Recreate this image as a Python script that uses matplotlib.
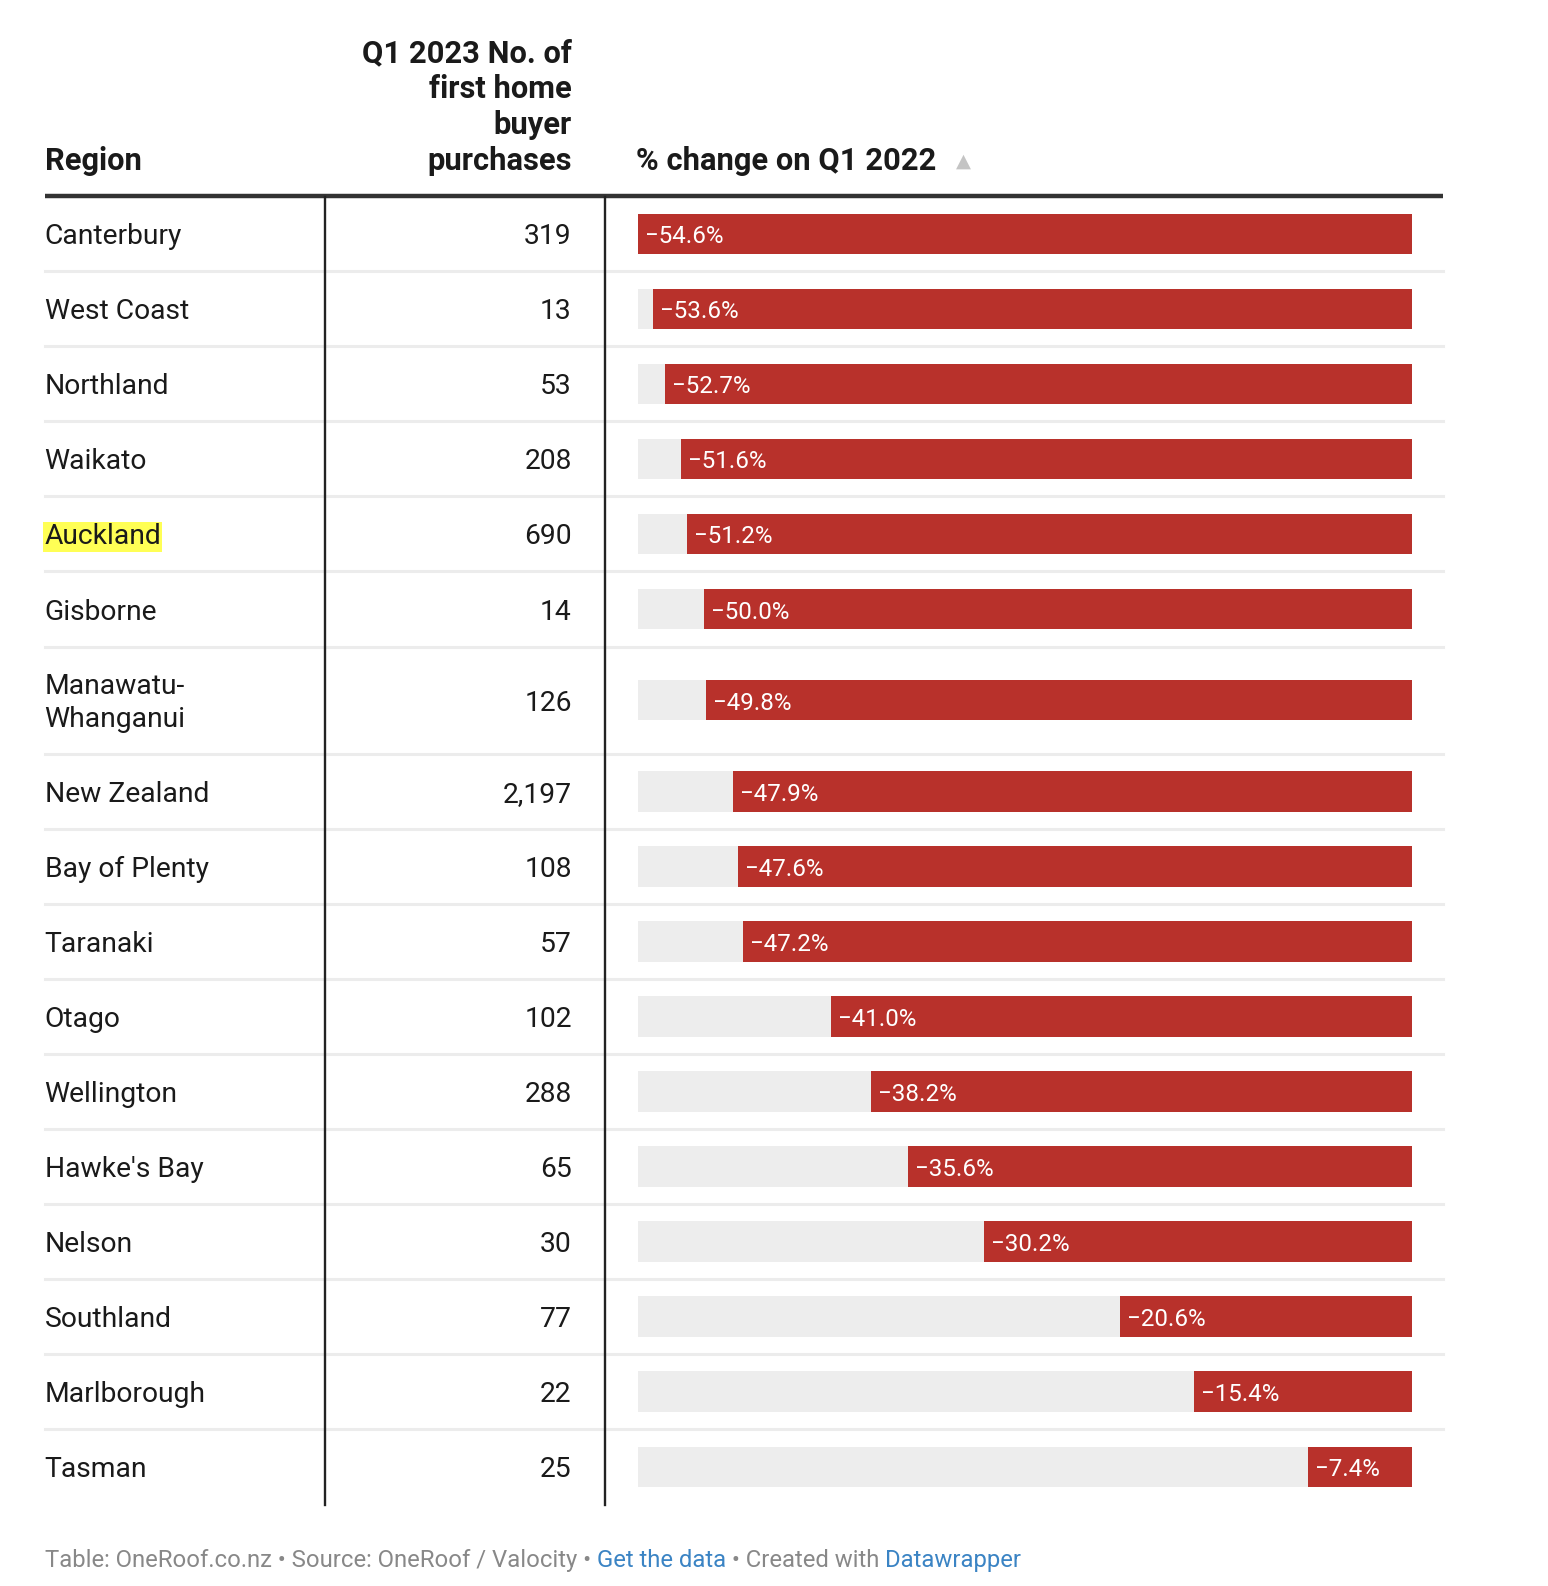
import matplotlib.pyplot as plt
import matplotlib as mpl

regions = ["Canterbury", "West Coast", "Northland", "Waikato", "Auckland",
           "Gisborne", "Manawatu-\nWhanganui", "New Zealand", "Bay of Plenty",
           "Taranaki", "Otago", "Wellington", "Hawke's Bay", "Nelson",
           "Southland", "Marlborough", "Tasman"]
purchases = ["319", "13", "53", "208", "690", "14", "126", "2,197", "108",
             "57", "102", "288", "65", "30", "77", "22", "25"]
pct_change = [-54.6, -53.6, -52.7, -51.6, -51.2, -50.0, -49.8, -47.9, -47.6,
              -47.2, -41.0, -38.2, -35.6, -30.2, -20.6, -15.4, -7.4]
highlight = ["Auckland"]

# layout works in a 1530 x 1568 grid, scaled onto the 1548 x 1586 figure
GW, GH = 1530, 1568
RED = "#b8312b"
BG = "#ededed"
TXT = "#1a1a1a"

mpl.rcParams["font.family"] = ["Roboto", "DejaVu Sans"]

fig = plt.figure(figsize=(15.48, 15.86), dpi=100)
ax = fig.add_axes([0, 0, 1, 1])
ax.set_xlim(0, GW)
ax.set_ylim(GH, 0)
ax.axis("off")

left, right = 44, 1426
col1, col2 = 321, 598
num_x = 565
bar_l, bar_r = 631, 1396
top = 194
row_h = [106 if "\n" in r else 74.2 for r in regions]

# header
hs = 22.2
ax.text(left, 168, "Region", fontsize=hs, fontweight="bold", color=TXT, va="baseline")
ax.text(num_x, 168, "Q1 2023 No. of\nfirst home\nbuyer\npurchases", fontsize=hs,
        fontweight="bold", color=TXT, ha="right", va="baseline", multialignment="right",
        linespacing=1.24)
ax.text(629, 168, "% change on Q1 2022", fontsize=hs, fontweight="bold",
        color=TXT, va="baseline")
ax.text(952, 165, "\u25b2", fontsize=14, color="#c4c4c4", ha="center", va="baseline",
        family=["DejaVu Sans"])
ax.plot([left, right], [top, top], color="#333333", lw=3.2, solid_capstyle="butt")

# bar axes shares the grid's y, uses percent on x
bax = fig.add_axes([bar_l / GW, 0, (bar_r - bar_l) / GW, 1])
bax.set_ylim(GH, 0)
bax.set_xlim(min(pct_change), 0)
bax.axis("off")

y = top
centers = []
for i, r in enumerate(regions):
    centers.append(y + row_h[i] / 2)
    y += row_h[i]
    if i < len(regions) - 1:
        ax.plot([left, right], [y, y], color="#ececec", lw=2.2, zorder=0)
bottom = y

bax.barh(centers, [min(pct_change)] * len(centers), height=40, color=BG)
bax.barh(centers, pct_change, height=40, color=RED)

fs = 20.3
shift = mpl.transforms.ScaledTranslation(7 / 100, 0, fig.dpi_scale_trans)
for i, r in enumerate(regions):
    c = centers[i]
    kw = dict(fontsize=fs, color=TXT, va="center")
    if r in highlight:
        kw["bbox"] = dict(boxstyle="square,pad=0.04", fc="#ffff55", ec="none")
    ax.text(left, c + 3, r, linespacing=1.3, **kw)
    ax.text(num_x, c + 3, purchases[i], fontsize=fs, color=TXT, va="center", ha="right")
    bax.text(pct_change[i], c + 3, f"\u2212{abs(pct_change[i]):.1f}%",
             fontsize=17.4, color="white", va="center", ha="left",
             transform=bax.transData + shift)

for xv in (col1, col2):
    ax.plot([xv, xv], [top + 1, bottom + 1], color="#222222", lw=1.7)

# footer
parts = [("Table: OneRoof.co.nz \u2022 Source: OneRoof / Valocity \u2022 ", "#888888"),
         ("Get the data", "#3b84c4"),
         (" \u2022 Created with ", "#888888"),
         ("Datawrapper", "#3b84c4")]
renderer = fig.canvas.get_renderer()
xp = left
for s, col in parts:
    t = ax.text(xp, 1543, s, fontsize=17.2, color=col, va="center")
    bb = t.get_window_extent(renderer)
    xp += bb.width * GW / fig.bbox.width

fig.savefig("out.png", dpi=100)
